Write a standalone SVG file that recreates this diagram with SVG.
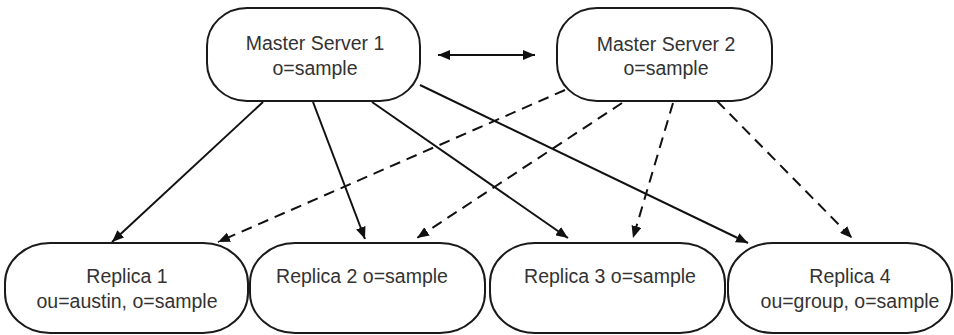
<svg xmlns="http://www.w3.org/2000/svg" width="954" height="335" viewBox="0 0 954 335">
<style>
.box{fill:#fff;stroke:#1a1a1a;stroke-width:2}
.t{font-family:"Liberation Sans",Arial,sans-serif;font-size:19.5px;fill:#333;text-anchor:middle}
.c{fill:none;stroke:#111;stroke-width:2}
.d{stroke-dasharray:11 7}
</style>
<defs>
<marker id="ah" viewBox="0 0 12 10" refX="12" refY="5" markerWidth="12" markerHeight="10" markerUnits="userSpaceOnUse" orient="auto-start-reverse">
<path d="M0,0 L12,5 L0,10 Z" fill="#111"/>
</marker>
</defs>
<rect width="954" height="335" fill="#fff"/>
<g id="connectors">
<line class="c" x1="263" y1="102" x2="112" y2="242" marker-end="url(#ah)"/>
<line class="c" x1="313" y1="102" x2="365" y2="239" marker-end="url(#ah)"/>
<line class="c" x1="372" y1="102" x2="568" y2="238" marker-end="url(#ah)"/>
<line class="c" x1="420" y1="85" x2="748" y2="243" marker-end="url(#ah)"/>
<line class="c d" x1="565" y1="90" x2="218" y2="242" marker-end="url(#ah)"/>
<line class="c d" x1="622" y1="103" x2="417" y2="238" marker-end="url(#ah)"/>
<line class="c d" x1="673" y1="103" x2="633" y2="238" marker-end="url(#ah)"/>
<line class="c d" x1="717" y1="101" x2="852" y2="238" marker-end="url(#ah)"/>
<line class="c" x1="438" y1="55" x2="535" y2="55" marker-start="url(#ah)" marker-end="url(#ah)"/>
</g>
<g id="master1">
<rect class="box" x="207" y="8" width="213" height="93" rx="40" ry="38"/>
<text class="t" x="315" y="50">Master Server 1</text>
<text class="t" x="315" y="75">o=sample</text>
</g>
<g id="master2">
<rect class="box" x="557" y="8" width="215" height="93" rx="40" ry="38"/>
<text class="t" x="666" y="51">Master Server 2</text>
<text class="t" x="666" y="75">o=sample</text>
</g>
<g id="replica1">
<rect class="box" x="5" y="243" width="243" height="90" rx="45" ry="40"/>
<text class="t" x="127" y="283">Replica 1</text>
<text class="t" x="127" y="308">ou=austin, o=sample</text>
</g>
<g id="replica2">
<rect class="box" x="250" y="243" width="235" height="90" rx="45" ry="40"/>
<text class="t" x="362" y="283">Replica 2 o=sample</text>
</g>
<g id="replica3">
<rect class="box" x="490" y="243" width="235" height="90" rx="45" ry="40"/>
<text class="t" x="610" y="283">Replica 3 o=sample</text>
</g>
<g id="replica4">
<rect class="box" x="728" y="243" width="224" height="90" rx="45" ry="40"/>
<text class="t" x="850" y="283">Replica 4</text>
<text class="t" x="850" y="308">ou=group, o=sample</text>
</g>
</svg>
